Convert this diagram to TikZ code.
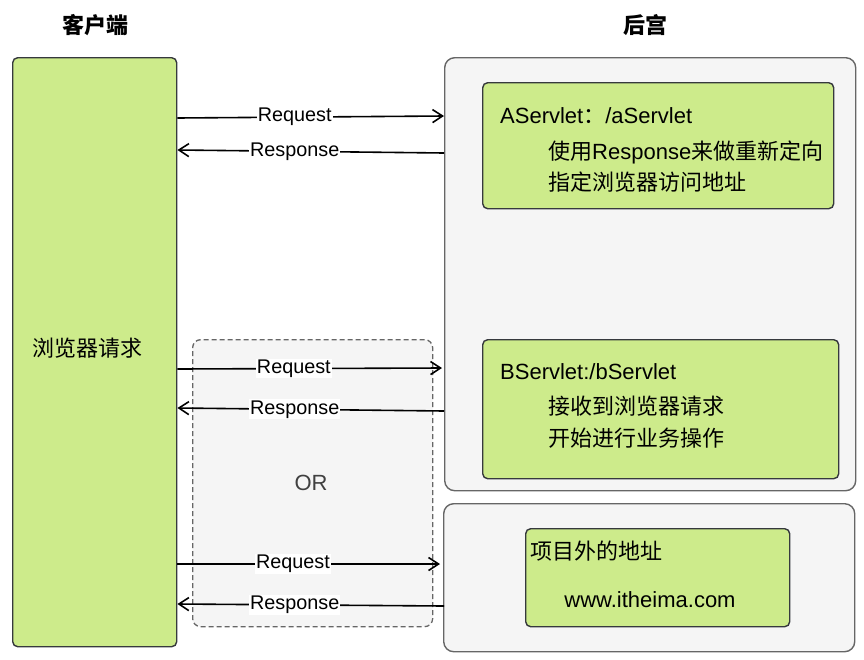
\documentclass[tikz,border=0pt]{standalone}
\usepackage{fontspec}
\setmainfont{Liberation Sans}
\newfontfamily\cjk{Noto Sans CJK SC}
\usetikzlibrary{arrows.meta,positioning,calc}
\definecolor{boxgreen}{HTML}{CDEB8B}
\definecolor{boxgreenline}{HTML}{36393D}
\definecolor{panelgray}{HTML}{F5F5F5}
\definecolor{panelline}{HTML}{666666}
\newcommand{\boxfont}{\fontsize{22}{26}\selectfont}
\newcommand{\edgefont}{\fontsize{19.8}{23}\selectfont}

\tikzset{
    greenbox/.style={rectangle, draw=boxgreenline, line width=1.4pt, fill=boxgreen, rounded corners=5pt, inner sep=0pt, anchor=north west},
    panel/.style={rectangle, draw=panelline, line width=1.4pt, fill=panelgray, rounded corners=10pt, inner sep=0pt, anchor=north west},
    orpanel/.style={rectangle, draw=panelline, line width=1.3pt, dashed, dash pattern=on 5pt off 3pt, fill=panelgray, rounded corners=8pt, inner sep=0pt, anchor=north west},
    flow/.style={line width=1.6pt, -{Straight Barb[length=10pt,width=13pt]}},
    flowlabel/.style={fill=white, inner sep=1pt, font=\edgefont, pos=.44},
    boxtext/.style={anchor=base west, inner sep=0pt, font=\boxfont}
}

\begin{document}
\begin{tikzpicture}[x=1pt, y=-1pt]
    \useasboundingbox (0,0) rectangle (864,659);

    % Titles
    \node[font=\boxfont] (clienttitle) at (95,25) {\cjk\bfseries 客户端};
    \node[font=\boxfont] (backtitle) at (645,25) {\cjk\bfseries 后宫};

    % Client side
    \node[greenbox, minimum width=164pt, minimum height=589pt] (client) at (12,57) {};
    \node[font=\boxfont] (clienttext) at (87,348) {\cjk 浏览器请求};

    % Back end panels
    \node[panel, minimum width=411pt, minimum height=433pt] (backA) at (444,57) {};
    \node[panel, minimum width=411pt, minimum height=148pt] (backB) at (443,503) {};
    \node[orpanel, minimum width=240pt, minimum height=287pt] (orbox) at (192,339) {};
    \node[font=\boxfont, text=black!75] (ortext) at (311,483) {OR};

    % Servlets
    \node[greenbox, minimum width=351pt, minimum height=126pt] (servA) at (482,82) {};
    \node[boxtext] (servAname) at (500,123) {AServlet{\cjk ：}/aServlet};
    \node[boxtext] (servAline1) at (548,159) {{\cjk 使用}Response{\cjk 来做重新定向}};
    \node[boxtext] (servAline2) at (548,190) {\cjk 指定浏览器访问地址};

    \node[greenbox, minimum width=356pt, minimum height=139pt] (servB) at (482,339) {};
    \node[boxtext] (servBname) at (500,379) {BServlet:/bServlet};
    \node[boxtext] (servBline1) at (548,414) {\cjk 接收到浏览器请求};
    \node[boxtext] (servBline2) at (548,446) {\cjk 开始进行业务操作};

    \node[greenbox, minimum width=264pt, minimum height=98pt] (outer) at (525,528) {};
    \node[boxtext] (outername) at (530,559) {\cjk 项目外的地址};
    \node[font=\boxfont] (outerurl) at (650,600) {www.itheima.com};

    % Requests and responses
    \draw[flow] ([yshift=-61pt]client.north east) -- ([yshift=-59pt]backA.north west) node[flowlabel] {Request};
    \draw[flow] ([yshift=-96pt]backA.north west) -- ([yshift=-93pt]client.north east) node[flowlabel, pos=.56] {Response};
    \draw[flow] ([yshift=-312pt]client.north east) -- ([yshift=-311pt, xshift=-2pt]backA.north west) node[flowlabel] {Request};
    \draw[flow] ([yshift=-354pt]backA.north west) -- ([yshift=-351pt]client.north east) node[flowlabel, pos=.56] {Response};
    \draw[flow] ([yshift=-507pt]client.north east) -- ([yshift=-61pt, xshift=-3pt]backB.north west) node[flowlabel] {Request};
    \draw[flow] ([yshift=-103pt, xshift=1pt]backB.north west) -- ([yshift=-547pt]client.north east) node[flowlabel, pos=.56] {Response};
\end{tikzpicture}
\end{document}
